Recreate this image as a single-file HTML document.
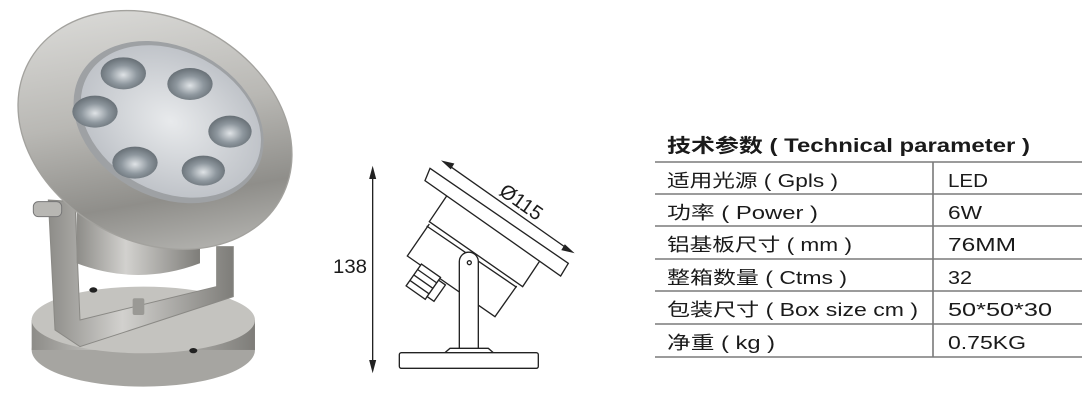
<!DOCTYPE html>
<html><head><meta charset="utf-8"><style>
html,body{margin:0;padding:0;background:#fff;width:1092px;height:404px;overflow:hidden}
svg{display:block}
text{font-family:"Liberation Sans","Noto Sans CJK SC",sans-serif;fill:#1a1a1a}
</style></head><body>
<svg width="1092" height="404" viewBox="0 0 1092 404" xmlns="http://www.w3.org/2000/svg">
<defs>
<linearGradient id="met" x1="0" y1="0" x2="1" y2="1">
<stop offset="0" stop-color="#e6e6e4"/><stop offset="0.45" stop-color="#b9b8b4"/><stop offset="0.7" stop-color="#8f8e8a"/><stop offset="1" stop-color="#cfcfcc"/></linearGradient>
<linearGradient id="met2" x1="0" y1="0" x2="1" y2="0">
<stop offset="0" stop-color="#8d8c88"/><stop offset="0.4" stop-color="#d2d1ce"/><stop offset="1" stop-color="#7e7d79"/></linearGradient>
<radialGradient id="lens" cx="0.5" cy="0.5" r="0.6">
<stop offset="0" stop-color="#e8eaec"/><stop offset="1" stop-color="#b8bcc2"/></radialGradient>
<radialGradient id="led" cx="0.5" cy="0.55" r="0.6">
<stop offset="0" stop-color="#dfe3e6"/><stop offset="0.5" stop-color="#8e979e"/><stop offset="1" stop-color="#5e666c"/></radialGradient>
</defs>

<!-- photo -->
<g transform="scale(0.3333)">
  <ellipse cx="430" cy="1050" rx="335" ry="110" fill="#a6a5a1"/>
  <rect x="95" y="960" width="670" height="90" fill="url(#met2)"/>
  <ellipse cx="430" cy="960" rx="335" ry="100" fill="#c4c3bf"/>
  <ellipse cx="580" cy="1052" rx="12" ry="8" fill="#222"/>
  <ellipse cx="280" cy="870" rx="12" ry="8" fill="#222"/>
  <polygon points="145,600 225,605 240,960 650,860 650,740 700,740 700,890 240,1040 165,990" fill="url(#met2)" stroke="#8a8985" stroke-width="3"/>
  <rect x="398" y="895" width="35" height="50" rx="6" fill="#9a9995"/>
  <path d="M230,560 L600,560 L600,790 Q415,860 230,790 Z" fill="url(#met2)"/>
  <g transform="rotate(28 465 390)">
    <ellipse cx="465" cy="390" rx="430" ry="335" fill="url(#met)" stroke="#a3a29e" stroke-width="4"/>
    <ellipse cx="490" cy="350" rx="300" ry="225" fill="#9ea1a4"/>
    <ellipse cx="495" cy="345" rx="285" ry="210" fill="url(#lens)"/>
  </g>
  <g fill="url(#led)">
    <ellipse cx="370" cy="220" rx="68" ry="48"/>
    <ellipse cx="570" cy="252" rx="68" ry="48"/>
    <ellipse cx="285" cy="335" rx="68" ry="48"/>
    <ellipse cx="690" cy="395" rx="65" ry="48"/>
    <ellipse cx="405" cy="488" rx="68" ry="48"/>
    <ellipse cx="610" cy="512" rx="65" ry="45"/>
  </g>
  <rect x="100" y="605" width="85" height="45" rx="15" fill="#b8b7b3" stroke="#777" stroke-width="3"/>
</g>

<!-- drawing -->
<g transform="translate(330,150) scale(0.3333)" fill="none" stroke="#222" stroke-width="4">
  <line x1="128" y1="60" x2="128" y2="655"/>
  <polygon points="128,55 120,85 136,85" fill="#222"/>
  <polygon points="128,662 120,632 136,632" fill="#222"/>
  <polygon points="300,55 715,340 692,378 285,92" fill="#fff"/>
  <line x1="345" y1="38" x2="722" y2="303"/>
  <polygon points="340,35 370,42 362,55" fill="#222"/>
  <polygon points="727,306 697,299 705,286" fill="#222"/>
  <polyline points="350,138 298,215 578,410 628,335"/>
  <polyline points="298,222 232,318 495,500 560,408"/>
  <line x1="290" y1="228" x2="560" y2="412"/>
  <g transform="rotate(35 280 395)">
    <rect x="245" y="355" width="70" height="80" fill="#fff"/>
    <line x1="245" y1="375" x2="315" y2="375"/>
    <line x1="245" y1="395" x2="315" y2="395"/>
    <line x1="245" y1="415" x2="315" y2="415"/>
    <rect x="315" y="365" width="25" height="60" fill="#fff"/>
  </g>
  <path d="M388,595 L388,335 A28.5,28.5 0 0 1 445,335 L445,595" fill="#fff"/>
  <circle cx="418" cy="338" r="6"/>
  <polygon points="345,608 360,595 475,595 490,608" fill="#fff"/>
  <rect x="208" y="608" width="417" height="47" rx="6" fill="#fff"/>
</g>
<text x="333" y="273" font-size="19" textLength="34" lengthAdjust="spacingAndGlyphs">138</text>
<text x="0" y="0" font-size="20" transform="translate(498,194) rotate(35)">Ø115</text>

<!-- table -->
<g stroke="#7a7a7a" stroke-width="1.6">
  <line x1="655" y1="162" x2="1082" y2="162"/>
  <line x1="655" y1="194" x2="1082" y2="194"/>
  <line x1="655" y1="226" x2="1082" y2="226"/>
  <line x1="655" y1="259" x2="1082" y2="259"/>
  <line x1="655" y1="291" x2="1082" y2="291"/>
  <line x1="655" y1="324" x2="1082" y2="324"/>
  <line x1="655" y1="357" x2="1082" y2="357"/>
  <line x1="933" y1="162" x2="933" y2="357"/>
</g>
<text x="667" y="152" font-size="19" font-weight="bold" textLength="363" lengthAdjust="spacingAndGlyphs">技术参数 ( Technical parameter )</text>
<g font-size="18">
<text x="667" y="187" textLength="171" lengthAdjust="spacingAndGlyphs">适用光源 ( Gpls )</text>
<text x="667" y="219" textLength="151" lengthAdjust="spacingAndGlyphs">功率 ( Power )</text>
<text x="667" y="251" textLength="185" lengthAdjust="spacingAndGlyphs">铝基板尺寸 ( mm )</text>
<text x="667" y="284" textLength="180" lengthAdjust="spacingAndGlyphs">整箱数量 ( Ctms )</text>
<text x="667" y="316" textLength="251" lengthAdjust="spacingAndGlyphs">包装尺寸 ( Box size cm )</text>
<text x="667" y="349" textLength="108" lengthAdjust="spacingAndGlyphs">净重 ( kg )</text>
<text x="948" y="187" textLength="40" lengthAdjust="spacingAndGlyphs">LED</text>
<text x="948" y="219" textLength="34" lengthAdjust="spacingAndGlyphs">6W</text>
<text x="948" y="251" textLength="68" lengthAdjust="spacingAndGlyphs">76MM</text>
<text x="948" y="284" textLength="24" lengthAdjust="spacingAndGlyphs">32</text>
<text x="948" y="316" textLength="104" lengthAdjust="spacingAndGlyphs">50*50*30</text>
<text x="948" y="349" textLength="78" lengthAdjust="spacingAndGlyphs">0.75KG</text>
</g>
</svg>
</body></html>
